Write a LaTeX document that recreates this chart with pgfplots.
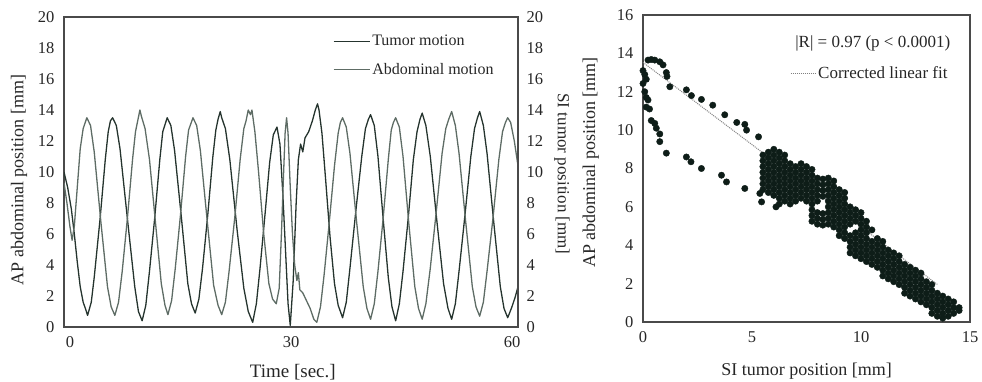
\documentclass[border=0pt]{standalone}
\usepackage{fontspec}
\setmainfont{Liberation Serif}
\usepackage{pgfplots}
\pgfplotsset{compat=1.18}
\definecolor{frame}{HTML}{4A4A4A}
\definecolor{txt}{HTML}{262626}
\definecolor{tumor}{HTML}{25342E}
\definecolor{abdo}{HTML}{5E6C65}
\definecolor{dots}{HTML}{0E1D18}
\begin{document}
\begin{tikzpicture}[font=\fontsize{16}{19}\selectfont, text=txt]
\path[use as bounding box] (0,0) rectangle (982pt,381pt);
\pgfplotsset{every axis/.append style={scale only axis,
  /pgf/number format/assume math mode=true,
  axis line style={frame, line width=1.2pt},
  major tick length=0pt,
  tick label style={font=\fontsize{16.5}{19}\selectfont, text=txt},
  xticklabel style={yshift=-6pt},
  label style={font=\fontsize{18}{21}\selectfont, text=txt}}}
% ---------- left: time series ----------
\begin{axis}[at={(64pt,54pt)}, anchor=south west, width=454pt, height=310pt,
  xmin=-0.8, xmax=60.8, ymin=0, ymax=20,
  xtick={0,30,60}, ytick={0,2,...,20},
  yticklabel style={xshift=-6pt},
  xlabel={Time [sec.]}, ylabel={AP abdominal position [mm]},
  xlabel style={at={(axis description cs:0.504,-0.145)}, anchor=center, font=\fontsize{19}{22}\selectfont},
  ylabel style={at={(axis description cs:-0.099,0.474)}, anchor=center},
  legend cell align=left,
  legend style={draw=none, fill=none, at={(0.592,0.875)}, anchor=west,
    inner sep=0pt, row sep=12pt, font=\fontsize{16}{19}\selectfont},
  legend image code/.code={\draw[#1] (0pt,0pt) -- (36pt,0pt);}]
\addplot[tumor, line width=1.3pt, line join=round] coordinates {
(-0.8,10.0)(-0.3,9.0)(0.2,7.6)(0.6,6.0)(1.0,4.2)(1.4,2.6)(1.8,1.6)(2.1,1.2)(2.4,0.75)
(2.9,1.6)(3.3,3.2)(4.1,7.0)(4.8,10.8)(5.2,12.6)(5.5,13.3)(5.8,13.5)
(6.3,13.0)(6.8,11.5)(7.8,7.0)(8.8,2.6)(9.3,1.0)(9.8,0.4)
(10.3,1.4)(10.8,3.6)(11.5,7.0)(12.2,10.8)(12.6,12.6)(13.2,13.5)
(13.7,13.0)(14.2,11.4)(15.1,7.2)(16.0,2.8)(16.5,1.5)(17.0,0.9)
(17.5,1.8)(18.0,3.8)(18.7,7.2)(19.4,11.0)(19.8,12.7)(20.1,13.4)(20.4,13.9)(20.6,13.5)
(21.1,12.8)(21.7,10.8)(22.7,6.2)(23.6,2.5)(24.2,1.0)(24.8,0.3)
(25.3,1.5)(25.8,3.8)(26.5,7.4)(27.1,10.6)(27.6,12.4)(28.1,12.9)
(28.5,11.8)(28.9,8.5)(29.3,4.5)(29.6,1.5)(29.9,0.1)
(30.3,3.0)(30.7,8.0)(31.0,10.8)(31.3,11.8)(31.6,11.3)(31.9,12.2)(32.4,12.6)(32.9,13.3)(33.3,14.0)(33.6,14.4)(33.8,14.0)
(34.2,12.5)(34.7,9.5)(35.3,5.8)(35.9,2.8)(36.4,1.4)(37.0,0.6)
(37.5,1.6)(38.0,3.8)(38.8,7.5)(39.6,11.0)(40.1,12.8)(40.5,13.4)(40.8,13.7)
(41.3,13.0)(41.8,11.0)(42.5,7.0)(43.2,3.2)(43.7,1.3)(44.2,0.4)
(44.7,1.5)(45.2,3.6)(45.9,7.0)(46.6,10.8)(47.1,12.6)(47.5,13.4)(47.8,13.8)
(48.3,13.0)(48.9,11.0)(49.8,6.8)(50.7,2.8)(51.3,1.2)(51.8,0.5)
(52.3,1.5)(52.8,3.6)(53.6,7.2)(54.4,11.0)(54.9,12.8)(55.3,13.5)(55.6,13.9)
(56.1,13.0)(56.6,11.2)(57.5,6.8)(58.4,2.6)(58.9,1.2)(59.4,0.6)
(59.9,1.2)(60.4,1.9)(60.8,2.6)};
\addlegendentry{Tumor motion}
\addplot[abdo, line width=1.3pt, line join=round] coordinates {
(-0.8,9.3)(-0.4,8.0)(0.0,6.5)(0.3,5.6)(0.6,6.5)(1.0,9.0)(1.4,11.5)(1.8,12.8)(2.3,13.5)
(2.8,13.0)(3.3,11.3)(4.2,6.8)(5.1,2.6)(5.6,1.3)(6.1,0.75)
(6.6,1.6)(7.1,3.6)(7.8,7.0)(8.5,10.8)(8.9,12.6)(9.2,13.3)(9.5,14.0)(9.7,13.6)
(10.2,12.8)(10.8,10.8)(11.6,6.8)(12.4,2.8)(12.9,1.4)(13.3,0.8)
(13.8,1.7)(14.3,3.8)(15.0,7.2)(15.7,11.0)(16.1,12.7)(16.7,13.5)
(17.2,13.0)(17.7,11.4)(18.6,7.0)(19.5,2.7)(20.1,1.4)(20.6,0.8)
(21.1,1.6)(21.6,3.6)(22.4,7.2)(23.1,10.8)(23.6,12.8)(23.9,13.3)(24.2,14.0)(24.5,13.7)(24.7,14.0)
(25.1,12.6)(25.6,10.0)(26.3,6.0)(27.0,2.8)(27.5,1.8)(28.0,1.5)
(28.4,2.5)(28.7,6.0)(29.0,10.0)(29.2,12.5)(29.4,13.5)(29.6,12.5)
(29.9,9.0)(30.2,6.0)(30.5,4.0)(30.8,3.0)(31.0,3.5)(31.2,2.4)(31.6,2.2)(32.0,1.8)(32.6,1.2)(33.1,0.5)(33.5,0.3)
(34.0,1.3)(34.5,3.4)(35.2,6.8)(35.9,10.4)(36.4,12.5)(36.7,13.2)(37.0,13.5)
(37.5,12.9)(38.0,11.2)(38.9,6.8)(39.8,2.6)(40.3,1.2)(40.8,0.5)
(41.3,1.5)(41.8,3.6)(42.5,7.0)(43.2,10.8)(43.6,12.7)(43.9,13.2)(44.2,13.5)
(44.7,12.9)(45.2,11.0)(46.0,6.6)(46.8,2.6)(47.3,1.2)(47.8,0.5)
(48.3,1.5)(48.9,3.8)(49.7,7.4)(50.5,11.2)(51.0,12.8)(51.4,13.4)(51.8,13.9)
(52.3,13.0)(52.8,11.2)(53.7,6.8)(54.6,2.6)(55.1,1.3)(55.6,0.7)
(56.1,1.6)(56.6,3.6)(57.4,7.0)(58.2,10.8)(58.7,12.6)(59.1,13.2)(59.4,13.5)
(59.8,13.2)(60.3,12.0)(60.8,10.4)};
\addlegendentry{Abdominal motion}
\end{axis}
% right-hand scale of the left panel
\begin{axis}[at={(64pt,54pt)}, anchor=south west, width=454pt, height=310pt,
  xmin=-0.8, xmax=60.8, ymin=0, ymax=20, ytick={0,2,...,20},
  yticklabel style={xshift=5pt},
  axis x line=none, axis y line*=right]
\end{axis}
\node[rotate=-90, font=\fontsize{17}{20}\selectfont] at (562pt,207pt) {SI tumor position [mm]};
% ---------- right: scatter ----------
\begin{axis}[at={(643pt,59pt)}, anchor=south west, width=327pt, height=307pt,
  xmin=0, xmax=15, ymin=0, ymax=16,
  xtick={0,5,10,15}, ytick={0,2,...,16}, clip=false,
  yticklabel style={xshift=-6pt},
  xlabel={SI tumor position [mm]}, ylabel={AP abdominal position [mm]},
  xlabel style={at={(axis description cs:0.5,-0.16)}, anchor=center},
  ylabel style={at={(axis description cs:-0.16,0.52)}, anchor=center},
  legend style={draw=none, fill=none, at={(0.4495,0.811)}, anchor=west,
    inner sep=0pt, font=\fontsize{17}{20}\selectfont},
  legend image code/.code={\draw[#1] (0pt,0pt) -- (25pt,0pt);}]
\addplot[gray, densely dotted, line width=1pt] coordinates {(0,13.53)(13.5,1.96)};
\addlegendentry{Corrected linear fit}
\addplot[only marks, mark=*, mark size=3.2pt, mark options={fill=dots, draw=dots}, forget plot] coordinates {
(0,13.1)(0.08,12.9)(0.15,12.65)(0.23,13.65)(0.38,13.68)(0.54,13.65)(0.77,13.56)(0.92,13.4)(1.07,13.0)(1.1,12.8)(1.23,12.26)(1.99,12.1)(2.22,11.8)(2.68,11.6)(3.2,11.3)(3.75,10.8)(4.3,10.4)(4.67,10.3)(4.75,10.0)(5.3,9.65)
(0,12.43)(0.08,12.0)(0.15,11.7)(0.23,11.57)(0.15,11.2)(0.3,11.1)
(0.38,10.5)(0.54,10.35)(0.61,10.1)(0.77,9.8)(0.77,9.4)(1.07,8.8)(1.99,8.6)(2.2,8.35)(2.68,8.0)(3.6,7.65)(3.83,7.3)(4.67,6.96)(5.36,6.7)(5.44,6.26)(6.1,6.0)
(5.5,6.9)(5.5,7.2)(5.5,7.5)(5.5,7.8)(5.5,8.1)(5.5,8.4)(5.5,8.7)
(5.75,6.75)(5.75,7.05)(5.75,7.35)(5.75,7.65)(5.75,7.95)(5.75,8.25)(5.75,8.55)(5.75,8.85)
(6.0,6.6)(6.0,6.9)(6.0,7.2)(6.0,7.5)(6.0,7.8)(6.0,8.1)(6.0,8.4)(6.0,8.7)(6.0,9.0)
(6.25,6.15)(6.25,6.45)(6.25,6.75)(6.25,7.05)(6.25,7.35)(6.25,7.65)(6.25,7.95)(6.25,8.25)(6.25,8.55)(6.25,8.85)
(6.5,6.3)(6.5,6.6)(6.5,6.9)(6.5,7.2)(6.5,7.5)(6.5,7.8)(6.5,8.1)(6.5,8.4)(6.5,8.7)
(6.75,6.15)(6.75,6.45)(6.75,6.75)(6.75,7.05)(6.75,7.35)(6.75,7.65)(6.75,7.95)(6.75,8.25)
(7.0,6.3)(7.0,6.6)(7.0,6.9)(7.0,7.2)(7.0,7.5)(7.0,7.8)(7.0,8.1)
(7.25,6.45)(7.25,6.75)(7.25,7.05)(7.25,7.35)(7.25,7.65)(7.25,7.95)(7.25,8.25)
(7.5,6.3)(7.5,6.6)(7.5,6.9)(7.5,7.2)(7.5,7.5)(7.5,7.8)(7.5,8.1)
(7.75,5.25)(7.75,5.55)(7.75,5.85)(7.75,6.15)(7.75,6.45)(7.75,6.75)(7.75,7.05)(7.75,7.35)(7.75,7.65)(7.75,7.95)
(8.0,5.1)(8.0,5.4)(8.0,5.7)(8.0,6.3)(8.0,6.6)(8.0,6.9)(8.0,7.2)(8.0,7.5)
(8.25,5.05)(8.25,5.35)(8.25,5.65)(8.25,6.55)(8.25,6.85)(8.25,7.15)(8.25,7.45)
(8.5,5.1)(8.5,5.4)(8.5,5.7)(8.5,6.0)(8.5,6.3)(8.5,6.6)(8.5,6.9)(8.5,7.2)(8.5,7.5)
(8.75,4.95)(8.75,5.25)(8.75,5.55)(8.75,5.85)(8.75,6.15)(8.75,6.45)(8.75,6.75)(8.75,7.05)(8.75,7.35)
(9.0,4.5)(9.0,4.8)(9.0,5.1)(9.0,5.4)(9.0,5.7)(9.0,6.0)(9.0,6.3)(9.0,6.6)(9.0,6.9)
(9.25,4.35)(9.25,4.65)(9.25,4.95)(9.25,5.25)(9.25,5.55)(9.25,5.85)(9.25,6.15)(9.25,6.45)(9.25,6.75)
(9.5,3.6)(9.5,3.9)(9.5,4.2)(9.5,4.5)(9.5,5.1)(9.5,5.4)(9.5,5.7)(9.5,6.0)
(9.75,3.45)(9.75,3.75)(9.75,4.05)(9.75,4.35)(9.75,4.65)(9.75,5.25)(9.75,5.55)(9.75,5.85)
(10.0,3.3)(10.0,3.6)(10.0,3.9)(10.0,4.2)(10.0,4.5)(10.0,4.8)(10.0,5.1)(10.0,5.4)(10.0,5.7)
(10.25,3.15)(10.25,3.45)(10.25,3.75)(10.25,4.05)(10.25,4.35)(10.25,4.65)(10.25,4.95)(10.25,5.25)
(10.5,3.0)(10.5,3.3)(10.5,3.6)(10.5,3.9)(10.5,4.2)(10.5,4.8)
(10.75,2.85)(10.75,3.15)(10.75,3.45)(10.75,3.75)(10.75,4.05)(10.75,4.35)
(11.0,2.4)(11.0,2.7)(11.0,3.0)(11.0,3.3)(11.0,3.6)(11.0,3.9)(11.0,4.2)
(11.25,2.25)(11.25,2.55)(11.25,2.85)(11.25,3.15)(11.25,3.45)(11.25,3.75)
(11.5,2.1)(11.5,2.4)(11.5,2.7)(11.5,3.0)(11.5,3.3)(11.5,3.6)
(11.75,1.95)(11.75,2.25)(11.75,2.55)(11.75,2.85)(11.75,3.15)(11.75,3.45)
(12.0,1.5)(12.0,1.8)(12.0,2.1)(12.0,2.4)(12.0,2.7)(12.0,3.0)
(12.25,1.35)(12.25,1.65)(12.25,1.95)(12.25,2.25)(12.25,2.55)(12.25,2.85)
(12.5,1.2)(12.5,1.5)(12.5,1.8)(12.5,2.1)(12.5,2.4)(12.5,2.7)
(12.75,1.05)(12.75,1.35)(12.75,1.65)(12.75,1.95)(12.75,2.25)(12.75,2.55)
(13.0,0.9)(13.0,1.2)(13.0,1.5)(13.0,1.8)(13.0,2.1)
(13.25,0.45)(13.25,0.75)(13.25,1.05)(13.25,1.35)(13.25,1.65)(13.25,1.95)
(13.5,0.3)(13.5,0.6)(13.5,0.9)(13.5,1.2)(13.5,1.5)
(13.75,0.2)(13.75,0.45)(13.75,0.75)(13.75,1.05)(13.75,1.35)
(14.0,0.3)(14.0,0.6)(14.0,0.9)(14.0,1.2)
(14.25,0.45)(14.25,0.75)(14.25,1.05)
(14.5,0.6)(14.5,0.75)};
\node[anchor=west, font=\fontsize{17}{20}\selectfont] at (rel axis cs:0.455,0.909) {|R| = 0.97 (p < 0.0001)};
\end{axis}
\end{tikzpicture}
\end{document}
